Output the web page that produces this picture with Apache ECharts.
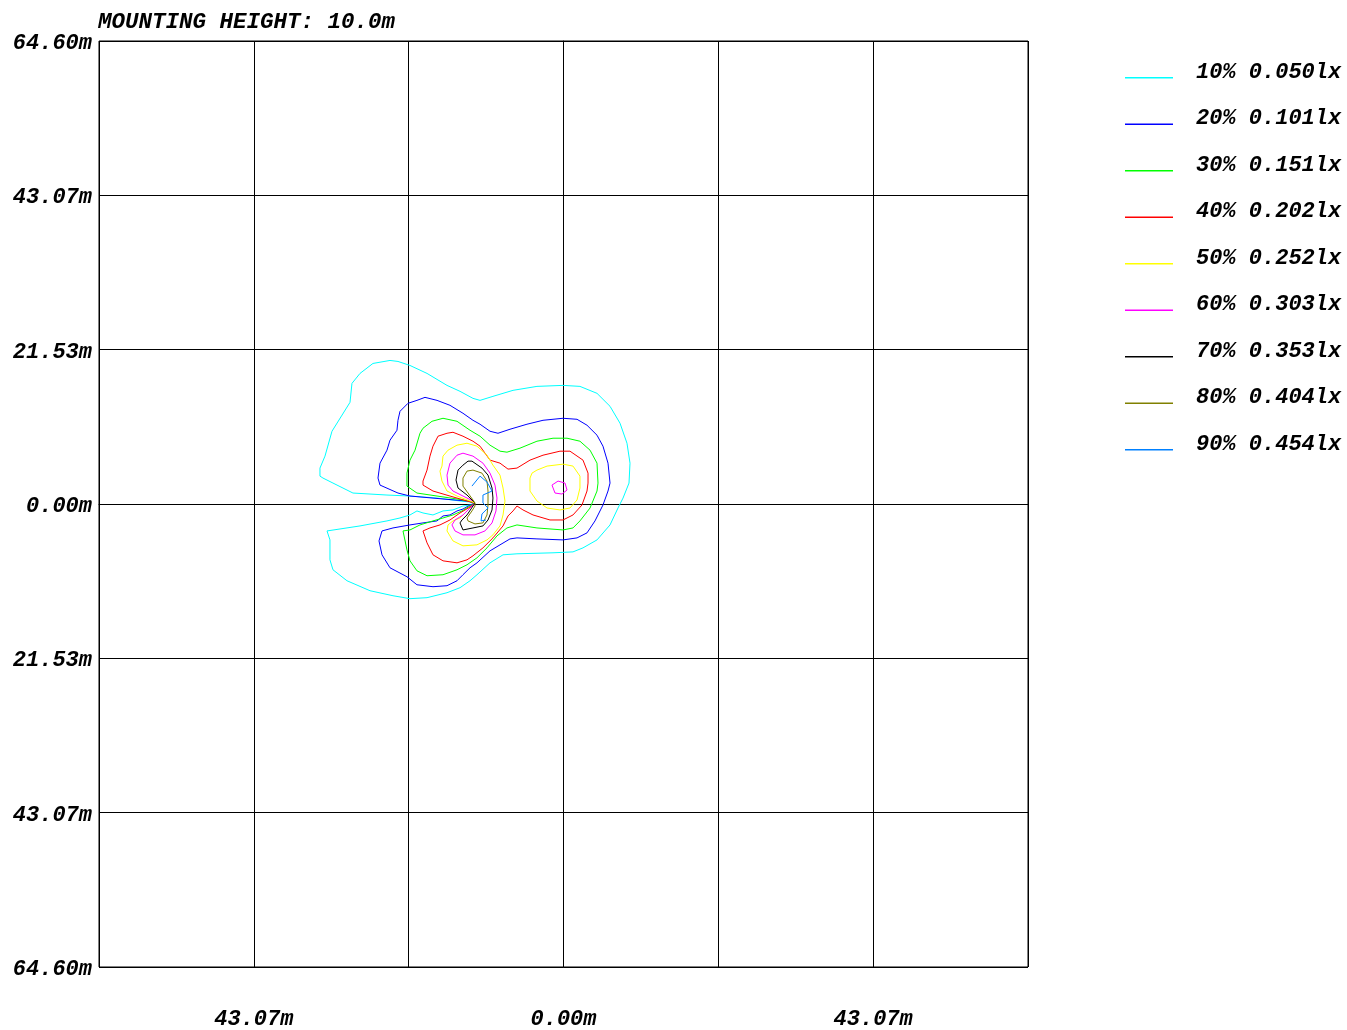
<!DOCTYPE html>
<html>
<head>
<meta charset="utf-8">
<script src="https://cdn.jsdelivr.net/npm/echarts@6.0.0/dist/echarts.min.js"></script>
<style>
html,body{margin:0;padding:0;background:#fff;overflow:hidden;}
#chart{width:1347px;height:1030px;}
</style>
</head>
<body>
<div id="chart"></div>
<script>
// ---- data (metres) ----
const titleText = 'MOUNTING HEIGHT: 10.0m';
const axisMax = 64.6;
const yTickLabels = ['64.60m','43.07m','21.53m','0.00m','21.53m','43.07m','64.60m'];
const xTickLabels = ['','43.07m','','0.00m','','43.07m',''];
const levelNames = ['10% 0.050lx','20% 0.101lx','30% 0.151lx','40% 0.202lx','50% 0.252lx','60% 0.303lx','70% 0.353lx','80% 0.404lx','90% 0.454lx'];

const contour10 = [[-12.31,0.14],[-13.00,0.28],[-14.39,0.42],[-17.59,0.83],[-21.35,1.11],[-24.55,1.25],[-29.28,1.53],[-32.06,2.92],[-33.45,3.62],[-33.87,3.89],[-33.87,5.01],[-33.17,6.68],[-32.20,10.15],[-29.69,14.19],[-29.42,16.83],[-28.30,18.22],[-26.50,19.61],[-24.13,20.03],[-23.02,19.89],[-21.35,19.33],[-18.98,18.22],[-16.20,16.55],[-14.39,15.72],[-12.59,14.74],[-11.61,14.46],[-9.81,15.02],[-7.02,15.86],[-3.69,16.41],[-0.07,16.55],[2.29,16.41],[4.66,15.44],[6.47,13.63],[7.86,11.27],[8.83,8.48],[9.25,5.70],[9.11,2.92],[8.28,0.83],[7.58,-0.56],[6.47,-2.92],[4.66,-5.01],[2.71,-6.12],[1.32,-6.68],[-1.46,-6.81],[-6.47,-6.95],[-8.41,-7.09],[-10.22,-8.21],[-12.03,-9.87],[-13.00,-10.71],[-14.39,-11.68],[-16.20,-12.38],[-18.98,-13.07],[-21.35,-13.21],[-23.71,-12.80],[-26.91,-12.10],[-30.11,-10.71],[-32.06,-9.18],[-32.48,-7.79],[-32.48,-5.01],[-32.89,-3.76],[-28.30,-3.06],[-24.55,-2.36],[-22.74,-1.95],[-21.35,-1.53],[-20.38,-0.97],[-19.54,-1.25],[-18.15,-1.53],[-16.76,-0.97],[-15.37,-0.83],[-13.98,-0.28],[-13.00,-0.14],[-12.31,0.14]];
const contour20 = [[-12.31,0.14],[-13.42,0.42],[-16.76,0.70],[-21.35,1.11],[-23.02,1.53],[-25.52,2.64],[-25.80,3.62],[-25.52,5.70],[-24.55,7.51],[-24.13,8.90],[-23.16,10.29],[-23.02,11.68],[-22.74,12.93],[-21.63,14.05],[-20.38,14.46],[-19.26,14.88],[-17.59,14.46],[-15.79,13.77],[-13.98,12.66],[-12.59,11.68],[-11.61,11.13],[-10.22,10.15],[-9.11,9.87],[-7.44,10.43],[-5.08,11.13],[-2.85,11.68],[-0.07,11.96],[1.88,11.82],[3.27,10.99],[4.66,9.60],[5.49,8.07],[6.19,5.70],[6.47,2.92],[6.19,1.81],[5.49,-0.14],[4.38,-2.36],[3.27,-4.03],[1.88,-4.73],[-0.07,-5.01],[-3.69,-4.87],[-6.47,-4.73],[-7.44,-4.87],[-8.83,-5.70],[-10.22,-6.54],[-12.03,-8.21],[-13.00,-8.90],[-13.98,-9.87],[-14.81,-10.71],[-16.20,-11.40],[-18.15,-11.54],[-20.38,-11.27],[-21.77,-10.15],[-24.13,-8.90],[-25.24,-7.09],[-25.66,-5.15],[-25.24,-3.76],[-23.71,-3.34],[-21.35,-2.92],[-19.54,-2.64],[-17.59,-2.36],[-16.76,-1.67],[-15.79,-1.53],[-14.81,-0.97],[-13.98,-0.70],[-13.00,-0.14],[-12.31,0.14]];
const contour30 = [[-12.31,0.14],[-13.28,0.42],[-14.81,0.70],[-17.59,1.11],[-20.38,1.53],[-21.77,2.50],[-21.77,4.31],[-21.35,6.12],[-20.65,7.51],[-19.96,9.87],[-19.54,10.57],[-18.29,11.54],[-16.76,11.96],[-14.81,11.54],[-13.00,10.29],[-11.61,9.46],[-10.22,8.21],[-8.83,7.37],[-7.86,7.23],[-6.05,7.79],[-3.69,8.76],[-1.46,9.18],[0.49,9.18],[2.29,8.76],[3.69,7.51],[4.66,5.70],[4.80,2.92],[4.66,1.81],[3.69,-0.56],[2.29,-2.36],[1.32,-3.34],[-0.07,-3.62],[-3.69,-3.34],[-6.47,-2.92],[-7.86,-3.34],[-9.25,-4.45],[-10.64,-6.12],[-12.03,-7.51],[-13.42,-8.48],[-14.81,-9.18],[-16.76,-9.87],[-18.98,-10.01],[-20.38,-9.32],[-21.35,-7.93],[-21.77,-6.40],[-22.32,-3.76],[-21.35,-3.62],[-19.96,-2.92],[-18.15,-2.36],[-16.76,-1.95],[-15.37,-1.53],[-14.12,-0.97],[-13.00,-0.28],[-12.31,0.14]];
const contour40 = [[-12.31,0.14],[-13.42,0.42],[-15.79,1.11],[-18.15,1.81],[-19.54,2.64],[-19.54,3.20],[-18.98,4.73],[-18.57,6.68],[-18.15,8.07],[-17.45,9.46],[-16.20,9.87],[-15.37,10.01],[-13.98,9.46],[-12.59,8.76],[-11.61,8.07],[-10.22,6.12],[-8.83,5.70],[-7.72,4.87],[-6.47,5.01],[-4.66,6.12],[-2.85,6.81],[-0.49,7.37],[0.90,7.37],[2.71,6.12],[3.41,4.31],[3.41,2.92],[3.27,1.81],[2.57,-0.14],[1.32,-1.53],[-0.07,-2.23],[-1.88,-2.23],[-4.24,-1.53],[-5.63,-0.83],[-6.47,-0.28],[-7.02,-0.97],[-7.72,-1.67],[-8.41,-3.06],[-9.81,-4.73],[-11.20,-6.12],[-12.59,-7.23],[-13.42,-7.79],[-14.81,-8.21],[-16.76,-7.93],[-18.15,-7.09],[-18.98,-5.42],[-19.54,-3.76],[-18.57,-3.34],[-17.18,-2.92],[-15.79,-2.23],[-14.39,-1.25],[-13.00,-0.42],[-12.31,0.14]];
const contour50 = [[-12.31,0.14],[-13.00,0.42],[-14.81,1.11],[-16.20,1.81],[-16.90,3.20],[-17.18,4.59],[-16.90,5.29],[-16.76,6.68],[-16.06,7.51],[-14.81,8.21],[-13.42,8.48],[-12.03,8.07],[-10.64,6.81],[-9.81,5.42],[-8.83,4.03],[-8.41,2.23],[-8.14,0.42],[-8.41,-1.53],[-8.83,-3.06],[-9.81,-4.31],[-10.64,-5.01],[-12.03,-5.70],[-13.98,-5.84],[-15.37,-5.15],[-16.20,-3.76],[-16.06,-2.92],[-15.37,-2.36],[-14.39,-1.95],[-13.42,-0.97],[-12.59,-0.14],[-12.31,0.14]];
const contour50b = [[-4.66,3.62],[-4.38,4.31],[-3.69,4.73],[-2.29,5.29],[-0.07,5.56],[1.32,5.29],[2.29,3.89],[2.29,2.23],[1.88,0.56],[0.90,-0.56],[-0.49,-0.83],[-2.29,-0.56],[-3.69,0.42],[-4.66,1.81],[-4.66,3.62]];
const contour60 = [[-12.31,0.14],[-12.59,0.42],[-13.98,1.11],[-15.37,1.81],[-16.06,2.64],[-16.20,4.03],[-15.79,5.70],[-14.81,6.81],[-13.98,7.09],[-12.59,6.68],[-11.20,5.70],[-10.22,4.31],[-9.53,2.64],[-9.25,0.83],[-9.39,-0.97],[-9.94,-2.64],[-10.92,-3.76],[-12.31,-4.31],[-13.98,-4.31],[-15.09,-3.76],[-15.51,-2.92],[-15.09,-2.23],[-13.98,-1.53],[-12.73,-0.28],[-12.31,0.14]];
const contour60b = [[-1.60,2.64],[-1.18,1.53],[-0.21,1.39],[0.49,1.95],[0.21,2.92],[-0.76,3.20],[-1.60,2.64]];
const contour70 = [[-12.31,0.14],[-12.59,0.42],[-13.42,1.25],[-14.67,2.23],[-14.95,3.34],[-14.67,4.73],[-13.98,5.42],[-13.28,5.98],[-12.73,5.98],[-11.34,5.01],[-10.50,4.03],[-9.94,2.23],[-9.81,0.83],[-9.94,-0.83],[-10.50,-2.23],[-11.20,-3.06],[-12.59,-3.34],[-13.98,-3.62],[-14.39,-2.64],[-14.12,-2.23],[-13.42,-1.53],[-12.59,-0.28],[-12.31,0.14]];
const contour80 = [[-12.31,0.14],[-12.59,0.56],[-13.28,1.53],[-13.98,2.50],[-13.98,3.62],[-13.42,4.59],[-12.59,4.73],[-11.34,4.31],[-10.64,3.20],[-10.50,1.81],[-10.50,-0.14],[-10.64,-1.53],[-11.20,-2.64],[-12.31,-2.78],[-13.28,-2.36],[-13.42,-1.95],[-12.73,-0.97],[-12.31,-0.28],[-12.31,0.14]];
const contour90 = [[-12.73,2.50],[-11.61,3.89],[-10.64,3.06],[-9.94,1.81],[-11.20,1.25],[-11.20,0.14],[-10.50,-0.56],[-11.34,-1.39],[-11.47,-2.36],[-10.78,-2.23]];

// ---- styles ----
const levelColors = ['#00ffff','#0000ff','#00ff00','#ff0000','#ffff00','#ff00ff','#000000','#808000','#0080ff'];
const FONT = 'Liberation Mono, Courier New, monospace';
// legend glyph: a 48px line drawn at the bottom of a 13px-high box
const legendIcon = 'path://M0,0L0.01,0L0,0.01Z M0,11.5L48,11.5L48,13L0,13Z';

const contourSets = [
  [contour10], [contour20], [contour30], [contour40],
  [contour50, contour50b], [contour60, contour60b],
  [contour70], [contour80], [contour90]
];

const series = [];
contourSets.forEach((parts, i) => {
  parts.forEach(p => {
    series.push({
      name: levelNames[i],
      type: 'line',
      data: p,
      symbol: 'none',
      showSymbol: false,
      smooth: false,
      silent: true,
      animation: false,
      color: levelColors[i],
      itemStyle: { color: levelColors[i] },
      lineStyle: { color: levelColors[i], width: 1 }
    });
  });
});

const step = axisMax / 3;
function tickIndex(v) { return Math.round((v + axisMax) / step); }

const chart = echarts.init(document.getElementById('chart'), null, { renderer: 'canvas' });
chart.setOption({
  backgroundColor: '#ffffff',
  animation: false,
  title: {
    text: titleText,
    left: 98, top: 11, padding: 0,
    textStyle: { fontFamily: FONT, fontSize: 22.5, fontWeight: 'bold', fontStyle: 'italic', color: '#000' }
  },
  legend: {
    orient: 'vertical',
    left: 1125, top: 61, padding: 0,
    icon: legendIcon,
    itemWidth: 48, itemHeight: 13,
    itemGap: 24.5,
    data: levelNames,
    selectedMode: false,
    textStyle: { fontFamily: FONT, fontSize: 22, fontWeight: 'bold', fontStyle: 'italic', color: '#000', padding: [0, 0, 0, 18] }
  },
  grid: {
    left: 99, right: 319, top: 41, bottom: 60,
    show: true, borderColor: '#000', borderWidth: 1, backgroundColor: 'transparent'
  },
  xAxis: {
    type: 'value', min: -axisMax, max: axisMax, interval: step,
    axisLine: { show: true, lineStyle: { color: '#000', width: 1 } },
    axisTick: { show: false },
    splitLine: { show: true, lineStyle: { color: '#000', width: 1 } },
    axisLabel: {
      show: true, margin: 41,
      fontFamily: FONT, fontSize: 22, fontWeight: 'bold', fontStyle: 'italic', color: '#000',
      formatter: v => xTickLabels[tickIndex(v)] || ''
    }
  },
  yAxis: {
    type: 'value', min: -axisMax, max: axisMax, interval: step,
    axisLine: { show: true, lineStyle: { color: '#000', width: 1 } },
    axisTick: { show: false },
    splitLine: { show: true, lineStyle: { color: '#000', width: 1 } },
    axisLabel: {
      show: true, margin: 7,
      verticalAlign: 'top', lineHeight: 5,
      fontFamily: FONT, fontSize: 22, fontWeight: 'bold', fontStyle: 'italic', color: '#000',
      formatter: v => yTickLabels[tickIndex(v)] || ''
    }
  },
  series: series
});
</script>
</body>
</html>
